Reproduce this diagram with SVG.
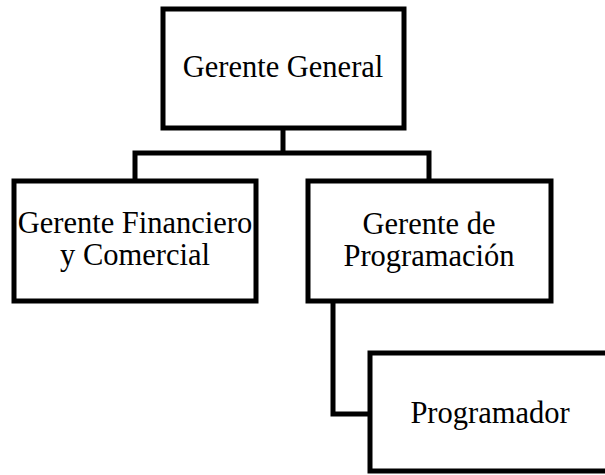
<svg xmlns="http://www.w3.org/2000/svg" width="605" height="475" viewBox="0 0 605 475">
<style>
.box{fill:#fff;stroke:#000;stroke-width:5;stroke-linejoin:miter}
.t{font-family:"Liberation Serif","Times New Roman",serif;font-size:30.5px;fill:#000;text-anchor:middle}
.c{fill:none;stroke:#000;stroke-width:5;stroke-linejoin:miter}
</style>
<rect width="605" height="475" fill="#fff"/>
<g id="connectors">
<path class="c" d="M283,130 V153"/>
<path class="c" d="M135,180 V153 H429 V180"/>
<path class="c" d="M333,302 V414 H369"/>
</g>
<g id="gerente-general">
<rect class="box" x="163" y="9" width="241" height="119"/>
<text class="t" x="283" y="77">Gerente General</text>
</g>
<g id="gerente-financiero">
<rect class="box" x="14" y="181" width="242" height="120"/>
<text class="t" x="135" y="233">Gerente Financiero</text>
<text class="t" x="135" y="265">y Comercial</text>
</g>
<g id="gerente-programacion">
<rect class="box" x="308" y="181" width="243" height="120"/>
<text class="t" x="429" y="234">Gerente de</text>
<text class="t" x="429" y="266">Programación</text>
</g>
<g id="programador">
<rect class="box" x="370" y="353" width="243" height="118"/>
<text class="t" x="490" y="423">Programador</text>
</g>
</svg>
